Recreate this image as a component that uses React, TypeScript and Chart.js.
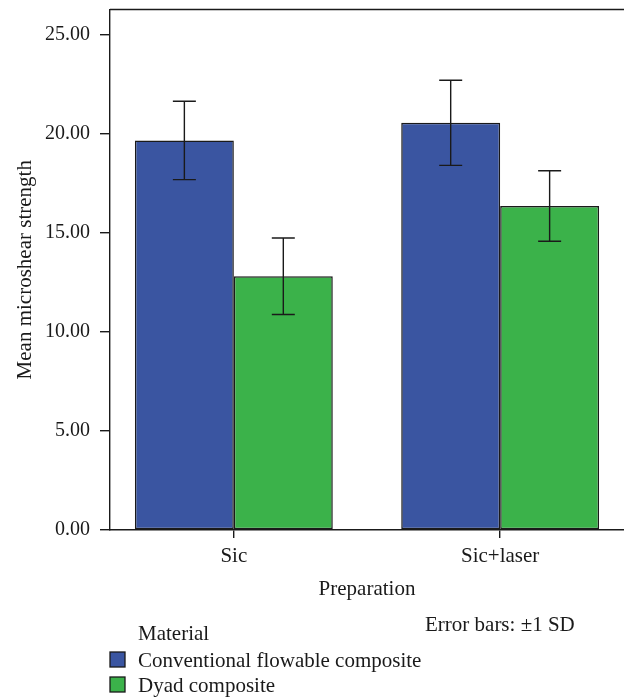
import { useEffect, useRef } from 'react';
import { Chart, registerables } from 'chart.js';

Chart.register(...registerables);

const categories = ['Sic', 'Sic+laser'];
const seriesLabels = ['Conventional flowable composite', 'Dyad composite'];
const conventionalMean = [19.67, 20.56];
const conventionalSD = [1.98, 2.15];
const dyadMean = [12.81, 16.36];
const dyadSD = [1.93, 1.78];
const yTicks = [0, 5, 10, 15, 20, 25];
const seriesColors = ['#3a55a1', '#3bb24a'];
const legendTitle = 'Material';
const footnote = 'Error bars: \u00b11 SD';
const xTitle = 'Preparation';
const yTitle = 'Mean microshear strength';

const FONT = '"Liberation Serif", "Times New Roman", serif';
const INK = '#1a1a1a';

const errorBarPlugin = {
  id: 'errorBars',
  afterDatasetsDraw(chart: any) {
    const ctx = chart.ctx;
    const yScale = chart.scales.y;
    const sds = [conventionalSD, dyadSD];
    const means = [conventionalMean, dyadMean];
    ctx.save();
    ctx.strokeStyle = INK;
    ctx.lineWidth = 1.4;
    chart.data.datasets.forEach((_: any, d: number) => {
      const meta = chart.getDatasetMeta(d);
      meta.data.forEach((el: any, i: number) => {
        const x = el.x;
        const top = yScale.getPixelForValue(means[d][i] + sds[d][i]);
        const bot = yScale.getPixelForValue(means[d][i] - sds[d][i]);
        const cap = 11.5;
        ctx.beginPath();
        ctx.moveTo(x, top);
        ctx.lineTo(x, bot);
        ctx.moveTo(x - cap, top);
        ctx.lineTo(x + cap, top);
        ctx.moveTo(x - cap, bot);
        ctx.lineTo(x + cap, bot);
        ctx.stroke();
      });
    });
    ctx.restore();
  },
};

const framePlugin = {
  id: 'frame',
  afterDraw(chart: any) {
    const { ctx, chartArea } = chart;
    ctx.save();
    ctx.strokeStyle = INK;
    ctx.lineWidth = 1.4;
    ctx.beginPath();
    ctx.moveTo(chartArea.left, chartArea.top);
    ctx.lineTo(chartArea.right, chartArea.top);
    ctx.stroke();
    ctx.restore();
  },
};

const notesPlugin = {
  id: 'notes',
  afterDraw(chart: any) {
    const ctx = chart.ctx;
    ctx.save();
    ctx.font = `21px ${FONT}`;
    ctx.fillStyle = INK;
    ctx.textBaseline = 'alphabetic';
    ctx.textAlign = 'left';
    ctx.fillText(footnote, 425, 631);
    ctx.fillText(legendTitle, 138, 640);
    const rows = [667, 692];
    chart.data.datasets.forEach((ds: any, i: number) => {
      const base = rows[i];
      ctx.fillStyle = ds.backgroundColor;
      ctx.fillRect(110, base - 15, 15, 15);
      ctx.strokeStyle = INK;
      ctx.lineWidth = 1.3;
      ctx.strokeRect(110, base - 15, 15, 15);
      ctx.fillStyle = INK;
      ctx.fillText(ds.label, 138, base);
    });
    ctx.restore();
  },
};

export default function App() {
  const ref = useRef<HTMLCanvasElement | null>(null);

  useEffect(() => {
    document.body.style.margin = '0';
    if (!ref.current) return;
    const means = [conventionalMean, dyadMean];
    const chart = new Chart(ref.current, {
      type: 'bar',
      data: {
        datasets: seriesLabels.map((label, d) => ({
          label,
          data: categories.map((_, i) => ({ x: i, y: means[d][i] })),
          backgroundColor: seriesColors[d],
          borderColor: INK,
          borderWidth: 1.5,
          borderSkipped: false,
          categoryPercentage: 0.743,
          barPercentage: 1,
        })),
      },
      options: {
        responsive: false,
        animation: false,
        devicePixelRatio: 1,
        layout: { padding: { top: 9.5, left: 0, right: 0, bottom: 97 } },
        plugins: {
          legend: { display: false },
          tooltip: { enabled: false },
        },
        scales: {
          x: {
            type: 'linear',
            offset: false,
            min: -0.465,
            max: 1.465,
            afterBuildTicks: (axis: any) => {
              axis.ticks = categories.map((_, i) => ({ value: i }));
            },
            afterFit: (axis: any) => {
              axis.height = 72;
              axis.paddingLeft = 0;
              axis.paddingRight = 0;
            },
            ticks: {
              callback: (v: any) => categories[v as number] ?? '',
              color: INK,
              font: { family: FONT, size: 21 },
              padding: 6,
              maxRotation: 0,
            },
            grid: {
              offset: false,
              drawOnChartArea: false,
              drawTicks: true,
              tickLength: 8,
              color: INK,
              lineWidth: 1.4,
            },
            border: { display: true, color: INK, width: 1.4 },
            title: {
              display: true,
              text: xTitle,
              color: INK,
              font: { family: FONT, size: 21 },
              padding: { top: 0, bottom: 0 },
            },
          },
          y: {
            type: 'linear',
            min: 0,
            max: 26.28,
            afterBuildTicks: (axis: any) => {
              axis.ticks = yTicks.map((v) => ({ value: v }));
            },
            afterFit: (axis: any) => {
              axis.width = 110;
              axis.paddingTop = 0;
              axis.paddingBottom = 0;
            },
            ticks: {
              callback: (v: any) => Number(v).toFixed(2),
              color: INK,
              font: { family: FONT, size: 20 },
              padding: 10,
            },
            grid: {
              drawOnChartArea: false,
              drawTicks: true,
              tickLength: 10,
              color: INK,
              lineWidth: 1.4,
            },
            border: { display: true, color: INK, width: 1.4 },
            title: {
              display: true,
              text: yTitle,
              color: INK,
              font: { family: FONT, size: 21 },
              padding: { top: 13, bottom: 0 },
            },
          },
        },
      },
      plugins: [errorBarPlugin, framePlugin, notesPlugin],
    });
    return () => chart.destroy();
  }, []);

  return (
    <div style={{ width: 624, height: 699, position: 'relative' }}>
      <canvas ref={ref} width={624} height={699} />
    </div>
  );
}
